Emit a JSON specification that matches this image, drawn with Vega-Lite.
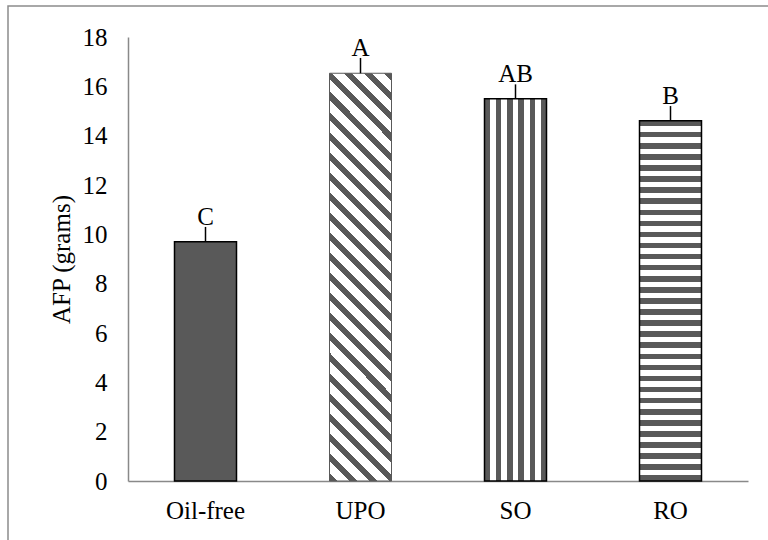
{
  "$schema": "https://vega.github.io/schema/vega-lite/v6.json",
  "width": 770,
  "height": 540,
  "autosize": {"type": "none"},
  "padding": {"left": 8, "top": 6, "right": 0, "bottom": 0},
  "background": "white",
  "config": {
    "view": {"stroke": "#8c8c8c", "strokeWidth": 1.5},
    "font": "Liberation Serif"
  },
  "data": {
    "values": [
      {"group": "Oil-free", "AFP": 9.7, "upper": 10.3, "letter": "C"},
      {"group": "UPO", "AFP": 16.53, "upper": 17.15, "letter": "A"},
      {"group": "SO", "AFP": 15.5, "upper": 16.08, "letter": "AB"},
      {"group": "RO", "AFP": 14.6, "upper": 15.2, "letter": "B"}
    ]
  },
  "encoding": {
    "x": {
      "field": "group",
      "type": "nominal",
      "sort": ["Oil-free", "UPO", "SO", "RO"],
      "scale": {"range": [120, 740], "paddingInner": 0.6, "paddingOuter": 0.3},
      "axis": {
        "title": null,
        "labelAngle": 0,
        "ticks": false,
        "labelPadding": 17,
        "labelFontSize": 25,
        "labelColor": "black",
        "labelFont": "Liberation Serif",
        "domainColor": "#898989",
        "domainWidth": 1.5,
        "offset": -65
      }
    }
  },
  "layer": [
    {
      "transform": [{"filter": "datum.group === 'Oil-free'"}],
      "mark": {"type": "bar", "fill": "#595959", "stroke": "black", "strokeWidth": 1.5},
      "encoding": {
        "y": {
          "field": "AFP",
          "type": "quantitative",
          "scale": {"domain": [0, 18], "range": [475, 31], "nice": false, "zero": true},
          "axis": {
            "title": "AFP (grams)",
            "titleFontSize": 25,
            "titleFontWeight": "normal",
            "titleFont": "Liberation Serif",
            "titleColor": "black",
            "titlePadding": 8,
            "values": [0, 2, 4, 6, 8, 10, 12, 14, 16, 18],
            "grid": false,
            "ticks": false,
            "labelPadding": 21,
            "labelFontSize": 25,
            "labelFont": "Liberation Serif",
            "labelColor": "black",
            "domainColor": "#898989",
            "domainWidth": 1.5,
            "offset": -120
          }
        }
      }
    },
    {
      "transform": [{"filter": "datum.group === 'UPO'"}],
      "mark": {
        "type": "bar",
        "stroke": "#595959",
        "strokeWidth": 1,
        "fill": {
          "gradient": "linear",
          "x1": 0, "y1": 1, "x2": 0.1715, "y2": -0.1262,
          "stops": [
            {"offset": 0, "color": "#595959"},
            {"offset": 0.01709, "color": "#595959"}, {"offset": 0.01709, "color": "#ffffff"},
            {"offset": 0.04274, "color": "#ffffff"}, {"offset": 0.04274, "color": "#595959"},
            {"offset": 0.05983, "color": "#595959"}, {"offset": 0.05983, "color": "#ffffff"},
            {"offset": 0.08547, "color": "#ffffff"}, {"offset": 0.08547, "color": "#595959"},
            {"offset": 0.10256, "color": "#595959"}, {"offset": 0.10256, "color": "#ffffff"},
            {"offset": 0.12821, "color": "#ffffff"}, {"offset": 0.12821, "color": "#595959"},
            {"offset": 0.1453, "color": "#595959"}, {"offset": 0.1453, "color": "#ffffff"},
            {"offset": 0.17094, "color": "#ffffff"}, {"offset": 0.17094, "color": "#595959"},
            {"offset": 0.18803, "color": "#595959"}, {"offset": 0.18803, "color": "#ffffff"},
            {"offset": 0.21368, "color": "#ffffff"}, {"offset": 0.21368, "color": "#595959"},
            {"offset": 0.23077, "color": "#595959"}, {"offset": 0.23077, "color": "#ffffff"},
            {"offset": 0.25641, "color": "#ffffff"}, {"offset": 0.25641, "color": "#595959"},
            {"offset": 0.2735, "color": "#595959"}, {"offset": 0.2735, "color": "#ffffff"},
            {"offset": 0.29915, "color": "#ffffff"}, {"offset": 0.29915, "color": "#595959"},
            {"offset": 0.31624, "color": "#595959"}, {"offset": 0.31624, "color": "#ffffff"},
            {"offset": 0.34188, "color": "#ffffff"}, {"offset": 0.34188, "color": "#595959"},
            {"offset": 0.35897, "color": "#595959"}, {"offset": 0.35897, "color": "#ffffff"},
            {"offset": 0.38462, "color": "#ffffff"}, {"offset": 0.38462, "color": "#595959"},
            {"offset": 0.40171, "color": "#595959"}, {"offset": 0.40171, "color": "#ffffff"},
            {"offset": 0.42735, "color": "#ffffff"}, {"offset": 0.42735, "color": "#595959"},
            {"offset": 0.44444, "color": "#595959"}, {"offset": 0.44444, "color": "#ffffff"},
            {"offset": 0.47009, "color": "#ffffff"}, {"offset": 0.47009, "color": "#595959"},
            {"offset": 0.48718, "color": "#595959"}, {"offset": 0.48718, "color": "#ffffff"},
            {"offset": 0.51282, "color": "#ffffff"}, {"offset": 0.51282, "color": "#595959"},
            {"offset": 0.52991, "color": "#595959"}, {"offset": 0.52991, "color": "#ffffff"},
            {"offset": 0.55556, "color": "#ffffff"}, {"offset": 0.55556, "color": "#595959"},
            {"offset": 0.57265, "color": "#595959"}, {"offset": 0.57265, "color": "#ffffff"},
            {"offset": 0.59829, "color": "#ffffff"}, {"offset": 0.59829, "color": "#595959"},
            {"offset": 0.61538, "color": "#595959"}, {"offset": 0.61538, "color": "#ffffff"},
            {"offset": 0.64103, "color": "#ffffff"}, {"offset": 0.64103, "color": "#595959"},
            {"offset": 0.65812, "color": "#595959"}, {"offset": 0.65812, "color": "#ffffff"},
            {"offset": 0.68376, "color": "#ffffff"}, {"offset": 0.68376, "color": "#595959"},
            {"offset": 0.70085, "color": "#595959"}, {"offset": 0.70085, "color": "#ffffff"},
            {"offset": 0.7265, "color": "#ffffff"}, {"offset": 0.7265, "color": "#595959"},
            {"offset": 0.74359, "color": "#595959"}, {"offset": 0.74359, "color": "#ffffff"},
            {"offset": 0.76923, "color": "#ffffff"}, {"offset": 0.76923, "color": "#595959"},
            {"offset": 0.78632, "color": "#595959"}, {"offset": 0.78632, "color": "#ffffff"},
            {"offset": 0.81197, "color": "#ffffff"}, {"offset": 0.81197, "color": "#595959"},
            {"offset": 0.82906, "color": "#595959"}, {"offset": 0.82906, "color": "#ffffff"},
            {"offset": 0.8547, "color": "#ffffff"}, {"offset": 0.8547, "color": "#595959"},
            {"offset": 0.87179, "color": "#595959"}, {"offset": 0.87179, "color": "#ffffff"},
            {"offset": 0.89744, "color": "#ffffff"}, {"offset": 0.89744, "color": "#595959"},
            {"offset": 0.91453, "color": "#595959"}, {"offset": 0.91453, "color": "#ffffff"},
            {"offset": 0.94017, "color": "#ffffff"}, {"offset": 0.94017, "color": "#595959"},
            {"offset": 0.95726, "color": "#595959"}, {"offset": 0.95726, "color": "#ffffff"},
            {"offset": 0.98291, "color": "#ffffff"}, {"offset": 0.98291, "color": "#595959"},
            {"offset": 1, "color": "#595959"}
          ]
        }
      },
      "encoding": {"y": {"field": "AFP", "type": "quantitative"}}
    },
    {
      "transform": [{"filter": "datum.group === 'SO'"}],
      "mark": {
        "type": "bar",
        "stroke": "black",
        "strokeWidth": 1.5,
        "fill": {
          "gradient": "linear",
          "x1": 0, "y1": 0, "x2": 1, "y2": 0,
          "stops": [
            {"offset": 0, "color": "#595959"},
            {"offset": 0.0909, "color": "#595959"}, {"offset": 0.0909, "color": "#ffffff"},
            {"offset": 0.1818, "color": "#ffffff"}, {"offset": 0.1818, "color": "#595959"},
            {"offset": 0.2727, "color": "#595959"}, {"offset": 0.2727, "color": "#ffffff"},
            {"offset": 0.3636, "color": "#ffffff"}, {"offset": 0.3636, "color": "#595959"},
            {"offset": 0.4545, "color": "#595959"}, {"offset": 0.4545, "color": "#ffffff"},
            {"offset": 0.5455, "color": "#ffffff"}, {"offset": 0.5455, "color": "#595959"},
            {"offset": 0.6364, "color": "#595959"}, {"offset": 0.6364, "color": "#ffffff"},
            {"offset": 0.7273, "color": "#ffffff"}, {"offset": 0.7273, "color": "#595959"},
            {"offset": 0.8182, "color": "#595959"}, {"offset": 0.8182, "color": "#ffffff"},
            {"offset": 0.9091, "color": "#ffffff"}, {"offset": 0.9091, "color": "#595959"},
            {"offset": 1, "color": "#595959"}
          ]
        }
      },
      "encoding": {"y": {"field": "AFP", "type": "quantitative"}}
    },
    {
      "transform": [{"filter": "datum.group === 'RO'"}],
      "mark": {
        "type": "bar",
        "stroke": "black",
        "strokeWidth": 1.5,
        "fill": {
          "gradient": "linear",
          "x1": 0, "y1": 0, "x2": 0, "y2": 1,
          "stops": [
            {"offset": 0, "color": "#595959"},
            {"offset": 0.01538, "color": "#595959"}, {"offset": 0.01538, "color": "#ffffff"},
            {"offset": 0.03077, "color": "#ffffff"}, {"offset": 0.03077, "color": "#595959"},
            {"offset": 0.04615, "color": "#595959"}, {"offset": 0.04615, "color": "#ffffff"},
            {"offset": 0.06154, "color": "#ffffff"}, {"offset": 0.06154, "color": "#595959"},
            {"offset": 0.07692, "color": "#595959"}, {"offset": 0.07692, "color": "#ffffff"},
            {"offset": 0.09231, "color": "#ffffff"}, {"offset": 0.09231, "color": "#595959"},
            {"offset": 0.10769, "color": "#595959"}, {"offset": 0.10769, "color": "#ffffff"},
            {"offset": 0.12308, "color": "#ffffff"}, {"offset": 0.12308, "color": "#595959"},
            {"offset": 0.13846, "color": "#595959"}, {"offset": 0.13846, "color": "#ffffff"},
            {"offset": 0.15385, "color": "#ffffff"}, {"offset": 0.15385, "color": "#595959"},
            {"offset": 0.16923, "color": "#595959"}, {"offset": 0.16923, "color": "#ffffff"},
            {"offset": 0.18462, "color": "#ffffff"}, {"offset": 0.18462, "color": "#595959"},
            {"offset": 0.2, "color": "#595959"}, {"offset": 0.2, "color": "#ffffff"},
            {"offset": 0.21538, "color": "#ffffff"}, {"offset": 0.21538, "color": "#595959"},
            {"offset": 0.23077, "color": "#595959"}, {"offset": 0.23077, "color": "#ffffff"},
            {"offset": 0.24615, "color": "#ffffff"}, {"offset": 0.24615, "color": "#595959"},
            {"offset": 0.26154, "color": "#595959"}, {"offset": 0.26154, "color": "#ffffff"},
            {"offset": 0.27692, "color": "#ffffff"}, {"offset": 0.27692, "color": "#595959"},
            {"offset": 0.29231, "color": "#595959"}, {"offset": 0.29231, "color": "#ffffff"},
            {"offset": 0.30769, "color": "#ffffff"}, {"offset": 0.30769, "color": "#595959"},
            {"offset": 0.32308, "color": "#595959"}, {"offset": 0.32308, "color": "#ffffff"},
            {"offset": 0.33846, "color": "#ffffff"}, {"offset": 0.33846, "color": "#595959"},
            {"offset": 0.35385, "color": "#595959"}, {"offset": 0.35385, "color": "#ffffff"},
            {"offset": 0.36923, "color": "#ffffff"}, {"offset": 0.36923, "color": "#595959"},
            {"offset": 0.38462, "color": "#595959"}, {"offset": 0.38462, "color": "#ffffff"},
            {"offset": 0.4, "color": "#ffffff"}, {"offset": 0.4, "color": "#595959"},
            {"offset": 0.41538, "color": "#595959"}, {"offset": 0.41538, "color": "#ffffff"},
            {"offset": 0.43077, "color": "#ffffff"}, {"offset": 0.43077, "color": "#595959"},
            {"offset": 0.44615, "color": "#595959"}, {"offset": 0.44615, "color": "#ffffff"},
            {"offset": 0.46154, "color": "#ffffff"}, {"offset": 0.46154, "color": "#595959"},
            {"offset": 0.47692, "color": "#595959"}, {"offset": 0.47692, "color": "#ffffff"},
            {"offset": 0.49231, "color": "#ffffff"}, {"offset": 0.49231, "color": "#595959"},
            {"offset": 0.50769, "color": "#595959"}, {"offset": 0.50769, "color": "#ffffff"},
            {"offset": 0.52308, "color": "#ffffff"}, {"offset": 0.52308, "color": "#595959"},
            {"offset": 0.53846, "color": "#595959"}, {"offset": 0.53846, "color": "#ffffff"},
            {"offset": 0.55385, "color": "#ffffff"}, {"offset": 0.55385, "color": "#595959"},
            {"offset": 0.56923, "color": "#595959"}, {"offset": 0.56923, "color": "#ffffff"},
            {"offset": 0.58462, "color": "#ffffff"}, {"offset": 0.58462, "color": "#595959"},
            {"offset": 0.6, "color": "#595959"}, {"offset": 0.6, "color": "#ffffff"},
            {"offset": 0.61538, "color": "#ffffff"}, {"offset": 0.61538, "color": "#595959"},
            {"offset": 0.63077, "color": "#595959"}, {"offset": 0.63077, "color": "#ffffff"},
            {"offset": 0.64615, "color": "#ffffff"}, {"offset": 0.64615, "color": "#595959"},
            {"offset": 0.66154, "color": "#595959"}, {"offset": 0.66154, "color": "#ffffff"},
            {"offset": 0.67692, "color": "#ffffff"}, {"offset": 0.67692, "color": "#595959"},
            {"offset": 0.69231, "color": "#595959"}, {"offset": 0.69231, "color": "#ffffff"},
            {"offset": 0.70769, "color": "#ffffff"}, {"offset": 0.70769, "color": "#595959"},
            {"offset": 0.72308, "color": "#595959"}, {"offset": 0.72308, "color": "#ffffff"},
            {"offset": 0.73846, "color": "#ffffff"}, {"offset": 0.73846, "color": "#595959"},
            {"offset": 0.75385, "color": "#595959"}, {"offset": 0.75385, "color": "#ffffff"},
            {"offset": 0.76923, "color": "#ffffff"}, {"offset": 0.76923, "color": "#595959"},
            {"offset": 0.78462, "color": "#595959"}, {"offset": 0.78462, "color": "#ffffff"},
            {"offset": 0.8, "color": "#ffffff"}, {"offset": 0.8, "color": "#595959"},
            {"offset": 0.81538, "color": "#595959"}, {"offset": 0.81538, "color": "#ffffff"},
            {"offset": 0.83077, "color": "#ffffff"}, {"offset": 0.83077, "color": "#595959"},
            {"offset": 0.84615, "color": "#595959"}, {"offset": 0.84615, "color": "#ffffff"},
            {"offset": 0.86154, "color": "#ffffff"}, {"offset": 0.86154, "color": "#595959"},
            {"offset": 0.87692, "color": "#595959"}, {"offset": 0.87692, "color": "#ffffff"},
            {"offset": 0.89231, "color": "#ffffff"}, {"offset": 0.89231, "color": "#595959"},
            {"offset": 0.90769, "color": "#595959"}, {"offset": 0.90769, "color": "#ffffff"},
            {"offset": 0.92308, "color": "#ffffff"}, {"offset": 0.92308, "color": "#595959"},
            {"offset": 0.93846, "color": "#595959"}, {"offset": 0.93846, "color": "#ffffff"},
            {"offset": 0.95385, "color": "#ffffff"}, {"offset": 0.95385, "color": "#595959"},
            {"offset": 0.96923, "color": "#595959"}, {"offset": 0.96923, "color": "#ffffff"},
            {"offset": 0.98462, "color": "#ffffff"}, {"offset": 0.98462, "color": "#595959"},
            {"offset": 1, "color": "#595959"}
          ]
        }
      },
      "encoding": {"y": {"field": "AFP", "type": "quantitative"}}
    },
    {
      "mark": {"type": "rule", "color": "black", "strokeWidth": 1.5},
      "encoding": {
        "y": {"field": "AFP", "type": "quantitative"},
        "y2": {"field": "upper"}
      }
    },
    {
      "mark": {"type": "text", "baseline": "alphabetic", "dy": -2, "fontSize": 25, "font": "Liberation Serif", "color": "black"},
      "encoding": {
        "y": {"field": "upper", "type": "quantitative"},
        "text": {"field": "letter"}
      }
    }
  ]
}
